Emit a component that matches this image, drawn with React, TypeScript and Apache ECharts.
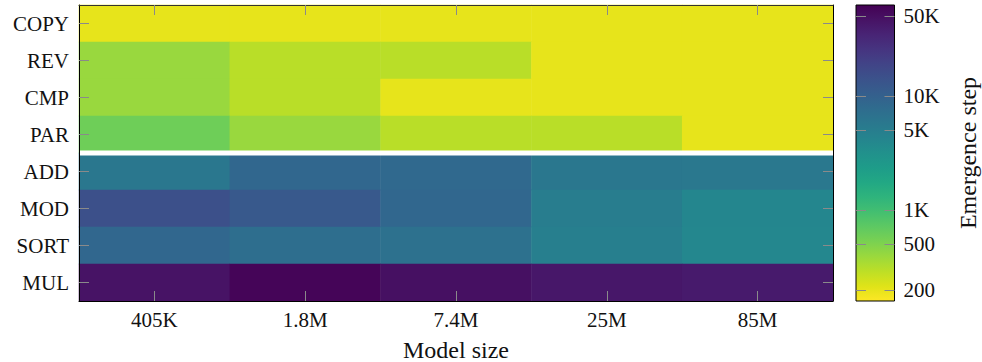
import React, { useEffect, useRef } from "react";
import * as echarts from "echarts";

const modelSizes = ["405K", "1.8M", "7.4M", "25M", "85M"];
const tasks = ["COPY", "REV", "CMP", "PAR", "ADD", "MOD", "SORT", "MUL"];

const copySteps = [200, 200, 200, 200, 200];
const revSteps = [400, 300, 300, 200, 200];
const cmpSteps = [400, 300, 200, 200, 200];
const parSteps = [600, 400, 300, 300, 200];
const addSteps = [5900, 8700, 8200, 5900, 5800];
const modSteps = [14800, 12000, 8700, 5100, 4100];
const sortSteps = [8700, 7300, 6800, 4800, 4000];
const mulSteps = [46000, 58000, 49000, 43000, 41000];

const stepRows = [copySteps, revSteps, cmpSteps, parSteps, addSteps, modSteps, sortSteps, mulSteps];

const colorbarTicks = [200, 500, 1000, 5000, 10000, 50000];
const colorbarTickLabels = ["200", "500", "1K", "5K", "10K", "50K"];
const colorMin = 160;
const colorMax = 62400;
const separatorAfter = "PAR";

const viridis = [
  "#440154", "#471365", "#482475", "#463480", "#414487", "#3b528b", "#355f8d",
  "#2f6c8e", "#2a788e", "#25848e", "#21918c", "#1e9c89", "#22a884", "#2fb47c",
  "#44bf70", "#5ec962", "#7ad151", "#9bd93c", "#bddf26", "#dfe318", "#fde725",
];

const FONT = "'Liberation Serif', 'Times New Roman', serif";

export default function App() {
  const ref = useRef<HTMLDivElement>(null);

  useEffect(() => {
    if (!ref.current) return;
    const chart = echarts.init(ref.current, null, { renderer: "svg" });

    const heatData: any[] = [];
    stepRows.forEach((row, r) => {
      row.forEach((v, c) => {
        heatData.push([c, r, Math.log10(v), v]);
      });
    });

    const sepIdx = tasks.indexOf(separatorAfter);
    const gradStops = viridis.map((c, i) => ({ offset: i / (viridis.length - 1), color: c }));
    const barGradient = new echarts.graphic.LinearGradient(0, 0, 0, 1, gradStops);

    const tickStyle = { color: "#8a8a8a", width: 1 };
    const lineStyle = { color: "#000", width: 1 };
    const labelFmt = (v: number) => {
      const i = colorbarTicks.findIndex((t) => Math.abs(t - v) / t < 1e-6);
      return i >= 0 ? colorbarTickLabels[i] : "";
    };

    const option: any = {
      animation: false,
      grid: [
        { left: 79, top: 5, width: 754, height: 296, outerBoundsMode: "none", containLabel: false },
        { left: 856, top: 5, width: 38.5, height: 296, outerBoundsMode: "none", containLabel: false },
      ],
      visualMap: {
        type: "continuous",
        show: false,
        seriesIndex: 0,
        dimension: 2,
        min: Math.log10(colorMin),
        max: Math.log10(colorMax),
        inRange: { color: viridis.slice().reverse() },
      },
      xAxis: [
        {
          type: "category",
          gridIndex: 0,
          data: modelSizes,
          position: "bottom",
          z: 5,
          axisLine: { show: true, lineStyle },
          axisTick: { show: true, inside: true, alignWithLabel: true, length: 10, lineStyle: tickStyle },
          axisLabel: { fontFamily: FONT, fontSize: 21, color: "#111", margin: 8 },
          splitLine: { show: false },
          name: "Model size",
          nameLocation: "middle",
          nameGap: 37,
          nameTextStyle: { fontFamily: FONT, fontSize: 24, color: "#111" },
        },
        {
          type: "category",
          gridIndex: 0,
          data: modelSizes,
          position: "top",
          z: 5,
          axisLine: { show: true, lineStyle: { color: "#333", width: 1 } },
          axisTick: { show: true, inside: true, alignWithLabel: true, length: 10, lineStyle: tickStyle },
          axisLabel: { show: false },
          splitLine: { show: false },
        },
        {
          type: "value",
          gridIndex: 1,
          min: 0,
          max: 1,
          show: false,
        },
      ],
      yAxis: [
        {
          type: "category",
          gridIndex: 0,
          data: tasks,
          inverse: true,
          position: "left",
          z: 5,
          axisLine: { show: true, lineStyle },
          axisTick: { show: true, inside: true, alignWithLabel: true, length: 10, lineStyle: tickStyle },
          axisLabel: { fontFamily: FONT, fontSize: 21, color: "#111", margin: 10 },
          splitLine: { show: false },
        },
        {
          type: "category",
          gridIndex: 0,
          data: tasks,
          inverse: true,
          position: "right",
          z: 5,
          axisLine: { show: true, lineStyle },
          axisTick: { show: true, inside: true, alignWithLabel: true, length: 10, lineStyle: tickStyle },
          axisLabel: { show: false },
          splitLine: { show: false },
        },
        {
          type: "log",
          logBase: 10,
          gridIndex: 1,
          min: colorMin,
          max: colorMax,
          position: "right",
          z: 5,
          axisLine: { show: false },
          axisTick: { show: false },
          axisLabel: {
            fontFamily: FONT,
            fontSize: 21,
            color: "#111",
            margin: 9,
            customValues: colorbarTicks,
            formatter: labelFmt,
          },
          splitLine: { show: false },
          name: "Emergence step",
          nameLocation: "middle",
          nameRotate: 90,
          nameGap: 61,
          nameTextStyle: { fontFamily: FONT, fontSize: 24, color: "#111" },
        },
      ],
      series: [
        {
          type: "heatmap",
          xAxisIndex: 0,
          yAxisIndex: 0,
          data: heatData,
          itemStyle: { borderWidth: 0 },
          emphasis: { disabled: true },
        },
        {
          type: "custom",
          xAxisIndex: 0,
          yAxisIndex: 0,
          z: 4,
          silent: true,
          data: [[0, sepIdx]],
          renderItem: (params: any, api: any) => {
            const a = api.coord([0, sepIdx]);
            const b = api.coord([0, sepIdx + 1]);
            const y = (a[1] + b[1]) / 2;
            const cs = params.coordSys;
            return {
              type: "rect",
              shape: { x: cs.x, y: y - 2.5, width: cs.width, height: 5 },
              style: { fill: "#ffffff" },
            };
          },
        },
        {
          type: "custom",
          xAxisIndex: 2,
          yAxisIndex: 2,
          z: 2,
          silent: true,
          data: [[0.5, 1000]],
          renderItem: (params: any) => {
            const cs = params.coordSys;
            return {
              type: "rect",
              shape: { x: cs.x, y: cs.y, width: cs.width, height: cs.height },
              style: { fill: barGradient, stroke: "#000", lineWidth: 1 },
            };
          },
        },
        {
          type: "custom",
          xAxisIndex: 2,
          yAxisIndex: 2,
          z: 3,
          silent: true,
          data: colorbarTicks.map((v) => [0.5, v]),
          renderItem: (params: any, api: any) => {
            const cs = params.coordSys;
            const y = Math.round(api.coord([0.5, api.value(1)])[1]) + 0.5;
            const len = 10;
            return {
              type: "group",
              children: [
                {
                  type: "line",
                  shape: { x1: cs.x, y1: y, x2: cs.x + len, y2: y },
                  style: { stroke: "#8a8a8a", lineWidth: 1 },
                },
                {
                  type: "line",
                  shape: { x1: cs.x + cs.width - len, y1: y, x2: cs.x + cs.width, y2: y },
                  style: { stroke: "#8a8a8a", lineWidth: 1 },
                },
              ],
            };
          },
        },
      ],
    };

    chart.setOption(option);
    return () => chart.dispose();
  }, []);

  return (
    <div
      ref={ref}
      style={{ position: "fixed", left: 0, top: 0, width: 982, height: 362, background: "#fff" }}
    />
  );
}
